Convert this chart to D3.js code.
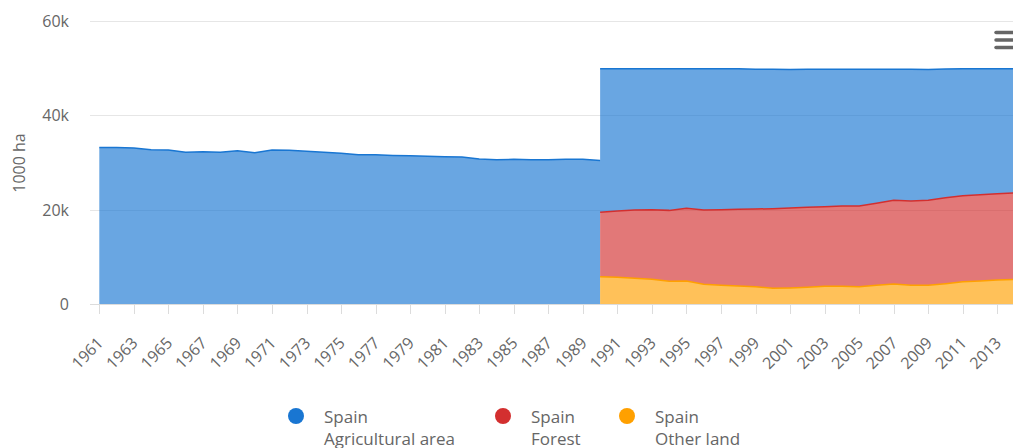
<!DOCTYPE html>
<html>
<head>
<meta charset="utf-8">
<script src="https://cdn.jsdelivr.net/npm/d3@7"></script>
<style>
  html, body { margin: 0; padding: 0; background: #fff; overflow: hidden; }
  svg { display: block; font-family: "Open Sans", "Noto Sans", sans-serif; }
</style>
</head>
<body>
<svg id="chart" width="1013" height="448"></svg>
<script>
// ---- Data (values in 1000 ha) ----
const years = [1961,1962,1963,1964,1965,1966,1967,1968,1969,1970,
  1971,1972,1973,1974,1975,1976,1977,1978,1979,1980,
  1981,1982,1983,1984,1985,1986,1987,1988,1989,1990,
  1991,1992,1993,1994,1995,1996,1997,1998,1999,2000,
  2001,2002,2003,2004,2005,2006,2007,2008,2009,2010,
  2011,2012,2013,2014];

const agriculturalArea = [33200,33200,33070,32720,32650,32160,32300,32160,32500,32080,
  32650,32580,32370,32160,31940,31650,31650,31510,31440,31300,
  31230,31160,30740,30600,30670,30600,30600,30670,30670,30400,
  30130,29920,29850,30000,29570,29920,29850,29780,29610,29540,
  29370,29290,29150,29000,29000,28440,27800,27910,27740,27260,
  26880,26700,26510,26370];

const forest = [null,null,null,null,null,null,null,null,null,null,
  null,null,null,null,null,null,null,null,null,null,
  null,null,null,null,null,null,null,null,null,13650,
  14070,14490,14770,15050,15400,15760,16040,16250,16460,16890,
  16960,16960,16880,17030,17100,17380,17740,17880,18020,18230,
  18240,18300,18300,18300];

const otherLand = [null,null,null,null,null,null,null,null,null,null,
  null,null,null,null,null,null,null,null,null,null,
  null,null,null,null,null,null,null,null,null,5800,
  5650,5440,5230,4800,4880,4170,3960,3820,3680,3320,
  3390,3530,3750,3750,3680,3960,4240,3960,3960,4310,
  4730,4880,5090,5230];

const yTicks = [0, 20000, 40000, 60000];
const xTickYears = [1961,1963,1965,1967,1969,1971,1973,1975,1977,1979,1981,1983,1985,1987,1989,
  1991,1993,1995,1997,1999,2001,2003,2005,2007,2009,2011,2013];

const seriesNames = ["Agricultural area", "Forest", "Other land"];
const countryName = "Spain";
const yTitle = "1000 ha";

// ---- Styles ----
const colors = ["#1976D2", "#D32F2F", "#FFA000"];
const fillOpacity = 0.65;
const textColor = "#666666";
const gridColor = "#e6e6e6";

// ---- Layout ----
const W = 1013, H = 448;
const plotLeft = 90, plotTop = 21, plotBottom = 304;
const svg = d3.select("#chart");

const x = d3.scaleLinear().domain([1961, 2014]).range([99.3, 1014.6]);
const y = d3.scaleLinear().domain([0, 60000]).range([plotBottom, plotTop]);

// Gridlines
svg.append("g").selectAll("line").data(yTicks.filter(d => d !== 0)).join("line")
  .attr("x1", plotLeft).attr("x2", W)
  .attr("y1", d => Math.round(y(d)) + 0.5).attr("y2", d => Math.round(y(d)) + 0.5)
  .attr("stroke", gridColor).attr("stroke-width", 1);

// Y labels
svg.append("g").selectAll("text").data(yTicks).join("text")
  .attr("x", 69).attr("y", d => y(d) + 6)
  .attr("text-anchor", "end")
  .attr("fill", textColor).attr("font-size", "16px")
  .text(d => d === 0 ? "0" : (d / 1000) + "k");

// Y title
svg.append("text")
  .attr("transform", "translate(24.5,163) rotate(-90)")
  .attr("text-anchor", "middle")
  .attr("fill", textColor).attr("font-size", "16px")
  .text(yTitle);

// ---- Stacking (Highcharts-like with cliffs at nulls) ----
const rows = years.map((yr, i) => {
  const o = otherLand[i], f = forest[i], a = agriculturalArea[i];
  const o0 = o == null ? 0 : o, f0 = f == null ? 0 : f;
  return { yr, o, f, a, oTop: o0, fTop: o0 + f0, aTop: o0 + f0 + a, hasLower: o != null || f != null };
});

// Agricultural area points, with cliff where lower series begin
const agriArea = [], agriLine = [];
rows.forEach((r, i) => {
  const prev = rows[i - 1];
  if (prev && !prev.hasLower && r.hasLower) {
    agriArea.push({ x: r.yr, y0: 0, y1: r.a });
    agriLine.push({ x: r.yr, y: r.a });
    agriLine.push(null);
  }
  agriArea.push({ x: r.yr, y0: r.fTop, y1: r.aTop });
  agriLine.push({ x: r.yr, y: r.aTop });
});

const areaGen = d3.area().x(d => x(d.x)).y0(d => y(d.y0)).y1(d => y(d.y1));
const lineGen = d3.line().defined(d => d != null).x(d => x(d.x)).y(d => y(d.y));

const forestArea = rows.filter(r => r.f != null).map(r => ({ x: r.yr, y0: r.oTop, y1: r.fTop }));
const otherArea = rows.filter(r => r.o != null).map(r => ({ x: r.yr, y0: 0, y1: r.oTop }));

const plot = svg.append("g");
// Agricultural
plot.append("path").attr("d", areaGen(agriArea))
  .attr("fill", colors[0]).attr("fill-opacity", fillOpacity);
plot.append("path").attr("d", lineGen(agriLine))
  .attr("fill", "none").attr("stroke", colors[0]).attr("stroke-width", 1.5);
// Forest
plot.append("path").attr("d", areaGen(forestArea))
  .attr("fill", colors[1]).attr("fill-opacity", fillOpacity);
plot.append("path").attr("d", lineGen(forestArea.map(d => ({ x: d.x, y: d.y1 }))))
  .attr("fill", "none").attr("stroke", colors[1]).attr("stroke-width", 1.5);
// Other land
plot.append("path").attr("d", areaGen(otherArea))
  .attr("fill", colors[2]).attr("fill-opacity", fillOpacity);
plot.append("path").attr("d", lineGen(otherArea.map(d => ({ x: d.x, y: d.y1 }))))
  .attr("fill", "none").attr("stroke", colors[2]).attr("stroke-width", 1.5);

// X axis line and ticks
svg.append("line").attr("x1", plotLeft).attr("x2", W)
  .attr("y1", plotBottom + 0.5).attr("y2", plotBottom + 0.5)
  .attr("stroke", "#dcdcdc").attr("stroke-width", 1);
const xg = svg.append("g");
xg.selectAll("line").data(xTickYears).join("line")
  .attr("x1", d => Math.round(x(d)) + 0.5).attr("x2", d => Math.round(x(d)) + 0.5)
  .attr("y1", plotBottom + 1).attr("y2", plotBottom + 10)
  .attr("stroke", "#dcdcdc").attr("stroke-width", 1);
xg.selectAll("text").data(xTickYears).join("text")
  .attr("transform", d => `translate(${x(d) + 5},${plotBottom + 40}) rotate(-45)`)
  .attr("text-anchor", "end")
  .attr("fill", textColor).attr("font-size", "16px")
  .text(d => d);

// Legend
const legendX = [288, 495, 619];
const legend = svg.append("g");
seriesNames.forEach((name, i) => {
  const g = legend.append("g").attr("transform", `translate(${legendX[i]},0)`);
  g.append("circle").attr("cx", 8).attr("cy", 416).attr("r", 8).attr("fill", colors[i]);
  const t = g.append("text").attr("x", 36).attr("y", 423)
    .attr("fill", textColor).attr("font-size", "17px");
  t.append("tspan").attr("x", 36).attr("dy", 0).text(countryName);
  t.append("tspan").attr("x", 36).attr("dy", 22).text(name);
});

// Menu (hamburger) icon
svg.append("g").selectAll("line").data([32.5, 40, 47.5]).join("line")
  .attr("x1", 996).attr("x2", 1016)
  .attr("y1", d => d).attr("y2", d => d)
  .attr("stroke", "#666").attr("stroke-width", 3.5).attr("stroke-linecap", "round");
</script>
</body>
</html>
